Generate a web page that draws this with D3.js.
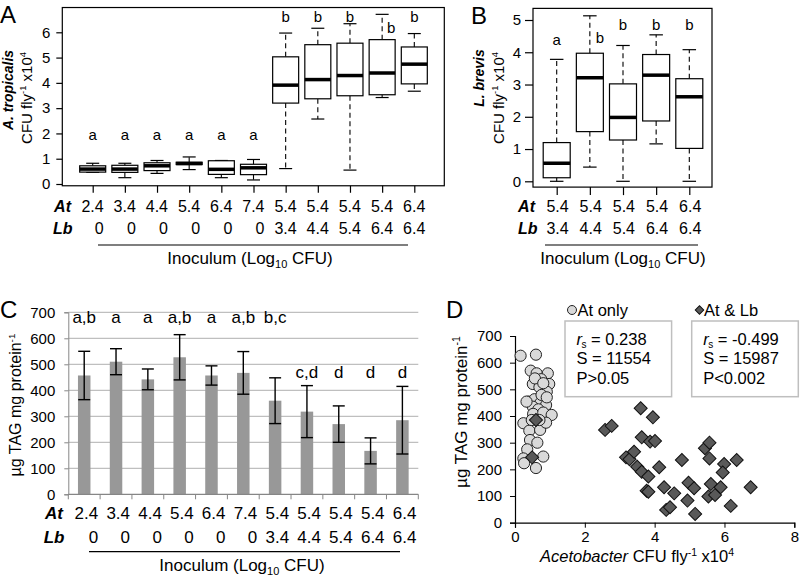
<!DOCTYPE html>
<html><head><meta charset="utf-8">
<script src="https://cdn.jsdelivr.net/npm/d3@7"></script>
<style>body{margin:0;background:#fff}svg{display:block}text{font-family:"Liberation Sans",Arial,sans-serif;fill:#000}</style>
</head><body><svg id="c" width="800" height="576"></svg>
<script>
// ---------- DATA ----------
// Panel A (A. tropicalis CFU x10^4)
const atA = ["2.4","3.4","4.4","5.4","6.4","7.4","5.4","5.4","5.4","5.4","6.4"];
const lbA = ["0","0","0","0","0","0","3.4","4.4","5.4","6.4","6.4"];
const lowA  = [0.46,0.25,0.42,0.57,0.25,0.16,0.61,2.57,0.55,3.42,3.67];
const q1A   = [0.47,0.46,0.53,0.77,0.38,0.37,3.20,3.37,3.49,3.53,3.96];
const medA  = [0.59,0.59,0.72,0.81,0.58,0.64,3.91,4.13,4.29,4.39,4.74];
const q3A   = [0.72,0.74,0.84,0.86,0.92,0.78,5.03,5.51,5.57,5.71,5.42];
const highA = [0.82,0.82,0.93,1.07,0.93,0.97,5.97,6.16,6.34,6.71,5.95];
const letA  = ["a","a","a","a","a","a","b","b","b","b","b"];
const ticksA = [0,1,2,3,4,5,6];

// Panel B (L. brevis CFU x10^4)
const atB = ["5.4","5.4","5.4","5.4","6.4"];
const lbB = ["3.4","4.4","5.4","6.4","6.4"];
const lowB  = [0.00,0.44,0.00,1.16,0.00];
const q1B   = [0.11,1.54,1.28,1.87,1.02];
const medB  = [0.56,3.21,1.98,3.29,2.62];
const q3B   = [1.20,3.97,3.02,3.93,3.18];
const highB = [3.78,5.13,4.21,4.54,4.08];
const letB  = ["a","b","b","b","b"];
const ticksB = [0,1,2,3,4,5];

// Panel C (TAG)
const atC = ["2.4","3.4","4.4","5.4","6.4","7.4","5.4","5.4","5.4","5.4","6.4"];
const lbC = ["0","0","0","0","0","0","3.4","4.4","5.4","6.4","6.4"];
const tagC = [457,510,442,527,457,467,360,318,270,167,285];
const errC = [93,50,40,87,37,82,88,100,70,50,130];
const letC = ["a,b","a","a","a,b","a","a,b","b,c","c,d","d","d","d"];
const ticksC = [0,100,200,300,400,500,600,700];

// Panel D scatter
const atOnlyX = [0.16,0.60,0.45,0.62,0.94,0.75,0.51,0.98,0.70,0.91,0.39,0.56,0.72,0.89,0.51,0.67,0.24,0.52,0.81,1.05,0.41,0.72,0.89,0.43,0.64,0.35,0.24,0.26,0.60,0.81,0.76,0.33,0.91,0.48,0.70,0.57,0.81];
const atOnlyY = [626,630,570,560,560,538,520,520,508,491,454,463,448,441,435,425,373,408,413,404,345,348,375,310,300,275,241,223,205,248,479,454,470,385,385,541,523];
const atLbX = [0.60,0.49,3.60,3.95,2.58,2.77,3.63,3.87,4.01,3.18,3.28,3.41,3.50,3.63,3.82,4.13,3.77,3.82,4.78,4.27,4.56,4.33,4.44,4.94,4.97,5.13,5.16,5.44,5.57,5.57,5.61,5.54,5.73,5.89,5.99,5.95,6.35,6.18,6.75];
const atLbY = [385,245,429,395,348,363,320,304,306,245,238,266,210,191,173,208,120,116,235,133,110,48,58,83,150,129,33,279,300,241,145,98,104,133,220,188,235,63,133];
const ticksDx = [0,2,4,6,8];
const ticksDy = [0,100,200,300,400,500,600,700];

// ---------- DRAW ----------
const svg = d3.select("#c");
const FF = '"Liberation Sans",Arial,sans-serif';
const fmtInt = d3.format("d");

function txt(g, x, y, s, size, anchor, opts) {
  const t = g.append("text").attr("x", x).attr("y", y).attr("font-size", size)
    .attr("text-anchor", anchor || "start").text(s);
  if (opts && opts.bold) t.attr("font-weight", "bold");
  if (opts && opts.italic) t.attr("font-style", "italic");
  return t;
}

function boxes(g, x, y, low, q1, med, q3, high, bw) {
  const idx = d3.range(low.length);
  const gg = g.append("g").attr("stroke", "#000").attr("fill", "none");
  gg.selectAll(".wu").data(idx).join("line")
    .attr("x1", i => x(i)).attr("x2", i => x(i)).attr("y1", i => y(q3[i])).attr("y2", i => y(high[i]))
    .attr("stroke-width", 1.1).attr("stroke-dasharray", "5,3.5");
  gg.selectAll(".wl").data(idx).join("line")
    .attr("x1", i => x(i)).attr("x2", i => x(i)).attr("y1", i => y(q1[i])).attr("y2", i => y(low[i]))
    .attr("stroke-width", 1.1).attr("stroke-dasharray", "5,3.5");
  [high, low].forEach(arr => {
    gg.selectAll(null).data(idx).join("line")
      .attr("x1", i => x(i) - bw / 4).attr("x2", i => x(i) + bw / 4)
      .attr("y1", i => y(arr[i])).attr("y2", i => y(arr[i])).attr("stroke-width", 1.2);
  });
  gg.selectAll(null).data(idx).join("rect")
    .attr("x", i => x(i) - bw / 2).attr("width", bw)
    .attr("y", i => y(q3[i])).attr("height", i => y(q1[i]) - y(q3[i]))
    .attr("fill", "#fff").attr("stroke-width", 1.2);
  gg.selectAll(null).data(idx).join("line")
    .attr("x1", i => x(i) - bw / 2).attr("x2", i => x(i) + bw / 2)
    .attr("y1", i => y(med[i])).attr("y2", i => y(med[i])).attr("stroke-width", 3.5);
}

function inoculum(g, cx, y) {
  const t = g.append("text").attr("x", cx).attr("y", y).attr("font-size", 17).attr("text-anchor", "middle");
  t.append("tspan").text("Inoculum (Log");
  t.append("tspan").attr("font-size", 11).attr("dy", 4).text("10");
  t.append("tspan").attr("dy", -4).text(" CFU)");
}

function cfuLabel(g, x, y, size) {
  const t = g.append("text").attr("transform", `translate(${x},${y}) rotate(-90)`)
    .attr("font-size", size).attr("text-anchor", "middle");
  t.append("tspan").text("CFU fly");
  t.append("tspan").attr("font-size", size * 0.62).attr("dy", -size * 0.38).text("-1");
  t.append("tspan").attr("dy", size * 0.38).text(" x10");
  t.append("tspan").attr("font-size", size * 0.62).attr("dy", -size * 0.38).text("4");
}

function tagLabel(g, x, y, size) {
  const t = g.append("text").attr("transform", `translate(${x},${y}) rotate(-90)`)
    .attr("font-size", size).attr("text-anchor", "middle");
  t.append("tspan").text("µg TAG mg protein");
  t.append("tspan").attr("font-size", size * 0.62).attr("dy", -size * 0.4).text("-1");
}

// ===== Panel A =====
{
  const g = svg.append("g");
  const x = d3.scalePoint().domain(d3.range(11)).range([92.7, 414.3]);
  const y = d3.scaleLinear().domain([0, 6]).range([184, 32.3]);
  g.append("rect").attr("x", 62.3).attr("y", y(6.98)).attr("width", 382)
    .attr("height", y(-0.07) - y(6.98)).attr("fill", "none").attr("stroke", "#000").attr("stroke-width", 1.2);
  const ya = g.append("g").attr("transform", "translate(62.3,0)")
    .call(d3.axisLeft(y).tickValues(ticksA).tickFormat(fmtInt).tickSize(6).tickPadding(6));
  ya.select(".domain").remove();
  ya.selectAll("text").attr("font-size", 15).attr("font-family", FF).attr("fill", "#000");
  ya.selectAll("line").attr("stroke", "#000").attr("stroke-width", 1.2);
  const xa = g.append("g").attr("transform", `translate(0,${y(-0.07)})`)
    .call(d3.axisBottom(x).tickSize(7).tickFormat(""));
  xa.select(".domain").remove();
  xa.selectAll("line").attr("stroke", "#000").attr("stroke-width", 1.2);
  boxes(g, x, y, lowA, q1A, medA, q3A, highA, 26);
  letA.forEach((l, i) => {
    const off = i === 9 ? 9 : 0;
    const yy = i < 6 ? 139.5 : (i === 9 ? 33.3 : 21.7);
    txt(g, x(i) + off, yy, l, 15, "middle");
  });
  txt(g, 71, 211.7, "At", 16, "end", { bold: true, italic: true });
  txt(g, 72.5, 234.3, "Lb", 16, "end", { bold: true, italic: true });
  atA.forEach((s, i) => txt(g, x(i) + 11, 211.7, s, 16, "end"));
  lbA.forEach((s, i) => txt(g, x(i) + 11, 234.3, s, 16, "end"));
  g.append("line").attr("x1", 98).attr("x2", 408).attr("y1", 245).attr("y2", 245).attr("stroke", "#000").attr("stroke-width", 1.2);
  inoculum(g, 250, 263.5);
  txt(g, 0, 23, "A", 24, "start");
  txt(g, 0, 0, "A. tropicalis", 14, "middle", { bold: true, italic: true })
    .attr("transform", "translate(13,90) rotate(-90)");
  cfuLabel(g, 32, 98, 15);
}

// ===== Panel B =====
{
  const g = svg.append("g");
  const x = d3.scalePoint().domain(d3.range(5)).range([556.7, 689.3]);
  const y = d3.scaleLinear().domain([0, 5]).range([181.3, 20]);
  g.append("rect").attr("x", 533).attr("y", y(5.36)).attr("width", 179)
    .attr("height", y(-0.18) - y(5.36)).attr("fill", "none").attr("stroke", "#000").attr("stroke-width", 1.2);
  const ya = g.append("g").attr("transform", "translate(533,0)")
    .call(d3.axisLeft(y).tickValues(ticksB).tickFormat(fmtInt).tickSize(8).tickPadding(4));
  ya.select(".domain").remove();
  ya.selectAll("text").attr("font-size", 15).attr("font-family", FF).attr("fill", "#000");
  ya.selectAll("line").attr("stroke", "#000").attr("stroke-width", 1.2);
  const xa = g.append("g").attr("transform", `translate(0,${y(-0.18)})`)
    .call(d3.axisBottom(x).tickSize(8).tickFormat(""));
  xa.select(".domain").remove();
  xa.selectAll("line").attr("stroke", "#000").attr("stroke-width", 1.2);
  boxes(g, x, y, lowB, q1B, medB, q3B, highB, 27);
  letB.forEach((l, i) => {
    const off = i === 1 ? 10 : 0;
    const yy = i === 0 ? 45 : (i === 1 ? 42.7 : 30);
    txt(g, x(i) + off, yy, l, 15, "middle");
  });
  txt(g, 535, 211.7, "At", 16, "end", { bold: true, italic: true });
  txt(g, 537.5, 234.3, "Lb", 16, "end", { bold: true, italic: true });
  atB.forEach((s, i) => txt(g, x(i) + 12, 211.7, s, 16, "end"));
  lbB.forEach((s, i) => txt(g, x(i) + 12, 234.3, s, 16, "end"));
  g.append("line").attr("x1", 545).attr("x2", 698).attr("y1", 245).attr("y2", 245).attr("stroke", "#000").attr("stroke-width", 1.2);
  inoculum(g, 623, 263.5);
  txt(g, 471, 24, "B", 24, "start");
  txt(g, 0, 0, "L. brevis", 14, "middle", { bold: true, italic: true })
    .attr("transform", "translate(484,78) rotate(-90)");
  cfuLabel(g, 504, 98, 15);
}

// ===== Panel C =====
{
  const g = svg.append("g");
  const x = d3.scaleBand().domain(d3.range(11)).range([68.3, 418.3]).padding(0);
  const y = d3.scaleLinear().domain([0, 700]).range([494.3, 312.3]);
  const bw = 12.5;
  g.selectAll(".grid").data(ticksC.slice(1)).join("line")
    .attr("x1", 68.3).attr("x2", 418.3).attr("y1", d => y(d)).attr("y2", d => y(d))
    .attr("stroke", "#bfbfbf").attr("stroke-width", 1.2);
  const idx = d3.range(11);
  g.selectAll(".bar").data(idx).join("rect")
    .attr("x", i => x(i) + x.bandwidth() / 2 - bw / 2).attr("width", bw)
    .attr("y", i => y(tagC[i])).attr("height", i => y(0) - y(tagC[i])).attr("fill", "#989898");
  const eg = g.append("g").attr("stroke", "#000").attr("stroke-width", 1.4);
  eg.selectAll(".ev").data(idx).join("line")
    .attr("x1", i => x(i) + x.bandwidth() / 2).attr("x2", i => x(i) + x.bandwidth() / 2)
    .attr("y1", i => y(tagC[i] + errC[i])).attr("y2", i => y(tagC[i] - errC[i]));
  [1, -1].forEach(s => {
    eg.selectAll(null).data(idx).join("line")
      .attr("x1", i => x(i) + x.bandwidth() / 2 - 6).attr("x2", i => x(i) + x.bandwidth() / 2 + 6)
      .attr("y1", i => y(tagC[i] + s * errC[i])).attr("y2", i => y(tagC[i] + s * errC[i]));
  });
  const ya = g.append("g").attr("transform", "translate(68.3,0)")
    .call(d3.axisLeft(y).tickValues(ticksC).tickSize(4).tickPadding(9));
  ya.select(".domain").attr("stroke", "#868686");
  ya.selectAll("line").attr("stroke", "#868686");
  ya.selectAll("text").attr("font-size", 15).attr("font-family", FF).attr("fill", "#222");
  const bounds = idx.map(i => x(i)).concat([x(10) + x.bandwidth()]);
  g.append("line").attr("x1", 68.3).attr("x2", 418.3).attr("y1", y(0)).attr("y2", y(0)).attr("stroke", "#868686").attr("stroke-width", 1.2);
  g.selectAll(".xt").data(bounds).join("line")
    .attr("x1", d => d).attr("x2", d => d).attr("y1", y(0)).attr("y2", y(0) + 5).attr("stroke", "#868686");
  letC.forEach((l, i) => {
    const yy = i < 7 ? 323 : 378;
    txt(g, x(i) + x.bandwidth() / 2, yy, l, 17, "middle");
  });
  txt(g, 63, 519.3, "At", 17, "end", { bold: true, italic: true });
  txt(g, 64.5, 543.3, "Lb", 17, "end", { bold: true, italic: true });
  atC.forEach((s, i) => txt(g, x(i) + x.bandwidth() / 2 + 14, 519.3, s, 17, "end"));
  lbC.forEach((s, i) => txt(g, x(i) + x.bandwidth() / 2 + 14, 543.3, s, 17, "end"));
  g.append("line").attr("x1", 89).attr("x2", 400).attr("y1", 551.7).attr("y2", 551.7).attr("stroke", "#000").attr("stroke-width", 1.2);
  inoculum(g, 242, 571);
  txt(g, 0, 318, "C", 24, "start");
  tagLabel(g, 21, 405, 16);
}

// ===== Panel D =====
{
  const g = svg.append("g");
  const x = d3.scaleLinear().domain([0, 8]).range([515, 794.3]);
  const y = d3.scaleLinear().domain([0, 700]).range([522.7, 336]);
  const xa = g.append("g").attr("transform", `translate(0,${y(0)})`)
    .call(d3.axisBottom(x).tickValues(ticksDx).tickSize(5).tickPadding(4));
  xa.select(".domain").attr("stroke", "#000").attr("stroke-width", 1.2);
  xa.selectAll("line").attr("stroke", "#000");
  xa.selectAll("text").attr("font-size", 15).attr("font-family", FF).attr("fill", "#000");
  const ya = g.append("g").attr("transform", `translate(${x(0)},0)`)
    .call(d3.axisLeft(y).tickValues(ticksDy).tickSize(5).tickPadding(8));
  ya.select(".domain").attr("stroke", "#000").attr("stroke-width", 1.2);
  ya.selectAll("line").attr("stroke", "#000");
  ya.selectAll("text").attr("font-size", 15).attr("font-family", FF).attr("fill", "#000");

  g.selectAll(".c").data(d3.range(atOnlyX.length)).join("circle")
    .attr("cx", i => x(atOnlyX[i])).attr("cy", i => y(atOnlyY[i])).attr("r", 5.6)
    .attr("fill", "#d9d9d9").attr("stroke", "#222").attr("stroke-width", 1);
  const dsym = d3.symbol().type(d3.symbolSquare).size(85);
  g.selectAll(".d").data(d3.range(atLbX.length)).join("path")
    .attr("d", dsym)
    .attr("transform", i => `translate(${x(atLbX[i])},${y(atLbY[i])}) rotate(45)`)
    .attr("fill", "#595959").attr("stroke", "#111").attr("stroke-width", 1);

  // legend
  g.append("circle").attr("cx", 572).attr("cy", 310).attr("r", 4.5).attr("fill", "#d9d9d9").attr("stroke", "#222");
  txt(g, 577.5, 316, "At only", 16.5, "start");
  g.append("path").attr("d", d3.symbol().type(d3.symbolSquare).size(36))
    .attr("transform", "translate(699.5,310) rotate(45)").attr("fill", "#595959").attr("stroke", "#111");
  txt(g, 704, 316, "At & Lb", 16.5, "start");

  // stat boxes
  const stats = [
    { x: 565, rs: "0.238", S: "11554", P: "P>0.05" },
    { x: 691.7, rs: "-0.499", S: "15987", P: "P<0.002" }
  ];
  stats.forEach(st => {
    g.append("rect").attr("x", st.x).attr("y", 321).attr("width", 106.6).attr("height", 75.7)
      .attr("fill", "#fff").attr("stroke", "#bfbfbf").attr("stroke-width", 1.5);
    const t = g.append("text").attr("x", st.x + 11.5).attr("y", 345).attr("font-size", 16.5);
    t.append("tspan").attr("font-style", "italic").text("r");
    t.append("tspan").attr("font-size", 10).attr("dy", 3).attr("dx", -0.5).text("s");
    t.append("tspan").attr("dy", -3).text(" = " + st.rs);
    txt(g, st.x + 11.5, 363.5, "S = " + st.S, 16.5, "start");
    txt(g, st.x + 11.5, 383.5, st.P, 16.5, "start");
  });

  const t = g.append("text").attr("x", 637).attr("y", 562).attr("font-size", 16.5).attr("text-anchor", "middle");
  t.append("tspan").attr("font-style", "italic").text("Acetobacter");
  t.append("tspan").text(" CFU fly");
  t.append("tspan").attr("font-size", 10.5).attr("dy", -6).text("-1");
  t.append("tspan").attr("dy", 6).text(" x10");
  t.append("tspan").attr("font-size", 10.5).attr("dy", -6).text("4");
  tagLabel(g, 467, 412, 17);
  txt(g, 446, 318, "D", 24, "start");
}
</script></body></html>
